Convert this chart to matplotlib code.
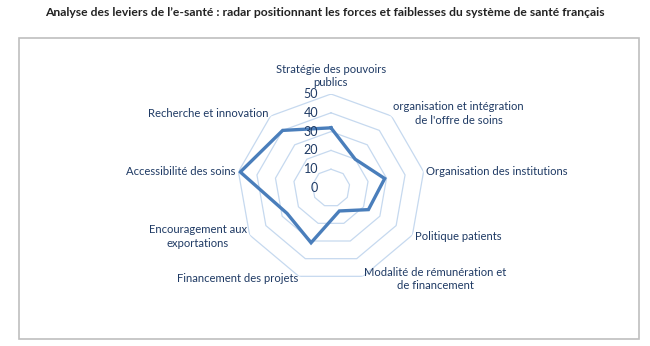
import numpy as np
import matplotlib
matplotlib.use("Agg")
import matplotlib.pyplot as plt
from matplotlib.transforms import offset_copy

# données du radar (lecture sur l'image)
categories = [
    "Stratégie des pouvoirs\npublics",
    "organisation et intégration\nde l'offre de soins",
    "Organisation des institutions",
    "Politique patients",
    "Modalité de rémunération et\nde financement",
    "Financement des projets",
    "Encouragement aux\nexportations",
    "Accessibilité des soins",
    "Recherche et innovation",
]
values = [32, 20, 29, 23, 13, 31, 27, 49, 40]
ring_levels = [10, 20, 30, 40, 50]
tick_labels = ["0", "10", "20", "30", "40", "50"]

title = ("Analyse des leviers de l\u2019e-santé : radar positionnant les forces "
         "et faiblesses du système de santé français")

W, H = 650, 346
navy = "#1F3A64"
grid_col = "#C6D9EF"
line_col = "#4A7EBB"

fig = plt.figure(figsize=(W / 100, H / 100), dpi=100)
fig.patch.set_facecolor("white")

# cadre gris
fig.add_artist(plt.Rectangle((18.5 / W, 1 - 338.5 / H), (639 - 18.5) / W, (338.5 - 37.5) / H,
                             transform=fig.transFigure, fill=False, ec="#BFBFBF", lw=1.2))

# titre
fig.text(325 / W, 1 - 12 / H, title, ha="center", va="center", fontsize=8.7,
         fontweight="bold", color="#222222", family="Lato")

# axes polaires : centre (331,188) px, rayon 94 px pour 50
cx, cy, rad = 331, 188, 94
ax = fig.add_axes([(cx - rad) / W, 1 - (cy + rad) / H, 2 * rad / W, 2 * rad / H],
                  projection="polar")
ax.set_theta_offset(np.pi / 2)
ax.set_theta_direction(-1)
ax.set_ylim(0, 50)
ax.set_xticks([])
ax.set_yticks([])
ax.grid(False)
ax.spines["polar"].set_visible(False)
ax.patch.set_alpha(0)

n = len(categories)
angles = np.linspace(0, 2 * np.pi, n, endpoint=False)
closed = np.append(angles, angles[0])

# anneaux (nonagones)
for lev in ring_levels:
    ax.plot(closed, [lev] * (n + 1), color=grid_col, lw=0.9, zorder=1)

# série
ax.plot(closed, values + values[:1], color=line_col, lw=2.4, zorder=3,
        solid_joinstyle="miter")

# étiquettes de l'axe des valeurs
tr = offset_copy(ax.transData, fig=fig, x=-13, y=0, units="dots")
for lab in tick_labels:
    ax.text(0, float(lab), lab, transform=tr, ha="right", va="center",
            fontsize=9, color=navy, family="Lato", zorder=4)

# étiquettes des catégories
for ang, lab in zip(angles, categories):
    s = np.sin(ang)
    if abs(s) < 0.1:
        ha, va, r = "center", "bottom", 53
    else:
        ha = "left" if s > 0 else "right"
        va, r = "center", 51.5
    ax.text(ang, r, lab, ha=ha, va=va, multialignment="center",
            fontsize=8.1, color=navy, family="Lato", linespacing=1.3)

fig.savefig("out.png", dpi=100)
